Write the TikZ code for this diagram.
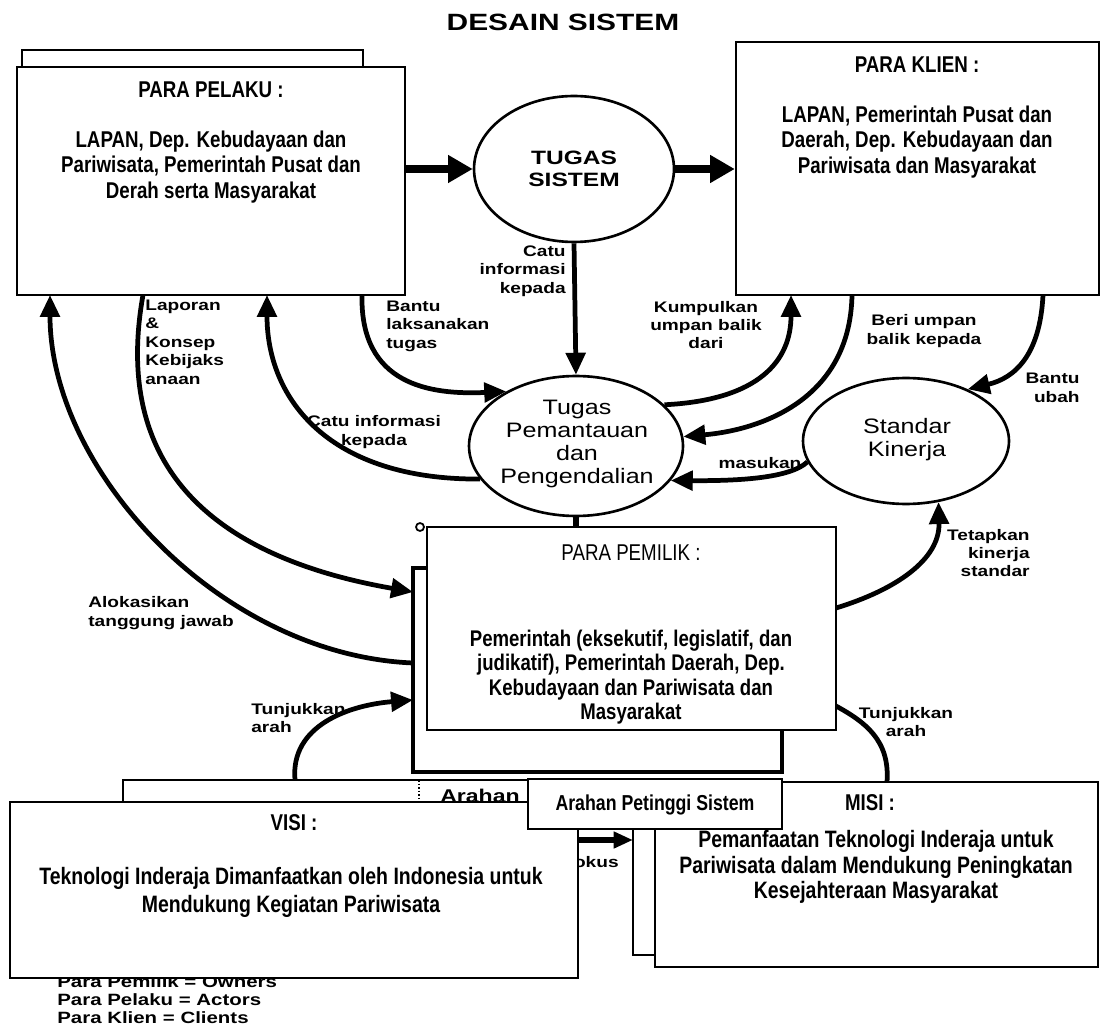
\documentclass[tikz,border=0pt]{standalone}
\usepackage{fontspec}
\setmainfont{Liberation Sans}
\newfontfamily\boxfont[FakeStretch=0.82]{Liberation Sans}
\newfontfamily\lblfont[FakeStretch=1.25]{Liberation Sans}
\newfontfamily\ellfont[FakeStretch=1.2]{Liberation Sans}
\newfontfamily\titlefont[FakeStretch=1.27]{Liberation Sans}
\usetikzlibrary{arrows.meta,shapes.geometric,fit}
\tikzset{
  box/.style={draw, line width=1.4pt, fill=white, inner sep=0pt},
  thickbox/.style={draw, line width=2.2pt, fill=white, inner sep=0pt},
  ell/.style={draw, ellipse, line width=1.5pt, fill=white, inner sep=0pt},
  conn/.style={line width=2.7pt, -{Triangle[length=12.5pt,width=11pt]}},
  plainconn/.style={line width=2.7pt},
  bigarrow/.style={line width=4.5pt, -{Triangle[length=14pt,width=15pt]}},
  fokusarrow/.style={line width=3.5pt, -{Triangle[length=11pt,width=9pt]}},
  lbl/.style={font=\lblfont\bfseries\fontsize{8.7}{10.5}\selectfont, inner sep=0pt},
  btitle/.style={font=\boxfont\bfseries\fontsize{13}{14.4}\selectfont, inner sep=0pt},
  btxt/.style={font=\boxfont\bfseries\fontsize{13}{14.6}\selectfont, align=center, inner sep=0pt},
  etxt/.style={font=\ellfont\fontsize{11.9}{13}\selectfont, align=center, inner sep=0pt},
}
\begin{document}
\begin{tikzpicture}[x=0.02cm,y=-0.02cm]
\fill[white] (0,0) rectangle (1101,1026);
\useasboundingbox (0,0) rectangle (1101,1026);

% title
\node[font=\titlefont\bfseries\fontsize{13.4}{15}\selectfont, inner sep=0pt] (title) at (563,22) {DESAIN SISTEM};

% PARA PELAKU
\node[box, fit={(22,50) (363,280)}] (pelB) {};
\node[box, fit={(17,67) (405,295)}] (pelF) {};
\node[btitle] (pelT) at (211,90) {PARA PELAKU :};
\node[btxt] (pelX) at (211,167) {LAPAN, Dep. Kebudayaan dan\\Pariwisata, Pemerintah Pusat dan\\Derah serta Masyarakat};

% PARA KLIEN
\node[box, fit={(736,42) (1099,295)}] (kli) {};
\node[btitle] (kliT) at (917,65) {PARA KLIEN :};
\node[btxt] (kliX) at (917,142) {LAPAN, Pemerintah Pusat dan\\Daerah, Dep. Kebudayaan dan\\Pariwisata dan Masyarakat};

% ellipses
\node[ell, minimum width=4cm, minimum height=2.92cm] (tug) at (574,169) {};
\node[font=\titlefont\bfseries\fontsize{11}{12.5}\selectfont, align=center, inner sep=0pt] (tugT) at (574,169) {TUGAS\\SISTEM};
\node[ell, minimum width=4.28cm, minimum height=2.8cm] (peng) at (576,446) {};
\node[etxt] (pengT) at (577,444) {Tugas\\Pemantauan\\dan\\Pengendalian};
\node[ell, minimum width=4.12cm, minimum height=2.52cm] (std) at (906,441) {};
\node[etxt] (stdT) at (907,440) {Standar\\Kinerja};

% PARA PEMILIK
\node[thickbox, fit={(413,568) (782,772)}] (pemB) {};
\node[box, fit={(427,527) (836,730)}] (pemF) {};
\node[font=\boxfont\fontsize{13}{14.4}\selectfont, inner sep=0pt] (pemT) at (631,553) {PARA PEMILIK :};
\node[font=\boxfont\bfseries\fontsize{12.9}{13.9}\selectfont, align=center, inner sep=0pt] (pemX) at (631,677) {Pemerintah (eksekutif, legislatif, dan\\judikatif), Pemerintah Daerah, Dep.\\Kebudayaan dan Pariwisata dan\\Masyarakat};
\node[circle, draw, line width=1pt, fill=white, minimum size=0.16cm, inner sep=0pt] (dot) at (420,527) {};

% legend (partly hidden by VISI)
\node[font=\lblfont\bfseries\fontsize{9.3}{10.2}\selectfont, align=left, anchor=west, inner sep=0pt] (leg) at (57,1000) {Para Pemilik = Owners\\Para Pelaku = Actors\\Para Klien = Clients};

% VISI back, hidden labels
\node[box, fit={(123,780) (560,960)}] (visB) {};
\draw[line width=1pt, densely dotted] (419,780) -- (419,802);
\node[font=\lblfont\bfseries\fontsize{10.5}{12}\selectfont, inner sep=0pt] (arahanL) at (480,796) {Arahan};
\node[lbl, anchor=east] (fokusL) at (619,862) {Fokus};
\coordinate (visR) at (578,840);
\coordinate (misL) at (633,840);
\draw[fokusarrow] (visR) -- (misL);

% VISI front
\node[box, fit={(10,802) (578,978)}] (visF) {};
\node[btitle] (visT) at (294,823) {VISI :};
\node[font=\boxfont\bfseries\fontsize{13.5}{16}\selectfont, align=center, inner sep=0pt] (visX) at (291,892) {Teknologi Inderaja Dimanfaatkan oleh Indonesia untuk\\Mendukung Kegiatan Pariwisata};

% MISI
\node[box, fit={(633,800) (1080,955)}] (misB) {};
\node[box, fit={(655,782) (1098,967)}] (misF) {};
\node[btitle] (misT) at (870,803) {MISI :};
\node[font=\boxfont\bfseries\fontsize{13.5}{14.4}\selectfont, align=center, inner sep=0pt] (misX) at (876,867) {Pemanfaatan Teknologi Inderaja untuk\\Pariwisata dalam Mendukung Peningkatan\\Kesejahteraan Masyarakat};

% Arahan Petinggi Sistem
\node[box, fit={(528,779) (782,829)}] (arah) {};
\node[font=\boxfont\bfseries\fontsize{12.3}{14}\selectfont, inner sep=0pt] (arahT) at (655,805) {Arahan Petinggi Sistem};

% connector end points on box edges
\coordinate (pelA) at (50,295);
\coordinate (pelBt) at (143,295);
\coordinate (pelC) at (267,295);
\coordinate (pelD) at (362,295);
\coordinate (kliE) at (791,295);
\coordinate (kliF) at (852,295);
\coordinate (kliG) at (1043,295);
\coordinate (pemA) at (413,663);
\coordinate (pemBt) at (413,592);
\coordinate (pemTa) at (413,700);
\coordinate (pemR1) at (836,608);
\coordinate (pemR2) at (836,706);
\coordinate (visTop) at (295,780);
\coordinate (misTop) at (887,782);

% thick arrows
\draw[bigarrow] (pelF.east |- tug.west) -- (tug.west);
\draw[bigarrow] (tug.east) -- (tug.east -| kli.west);

% connectors
\draw[conn] (pemA) .. controls (220,655) and (50,470) .. (pelA);
\draw[conn] (pelBt) .. controls (110,480) and (230,560) .. (pemBt);
\draw[conn] (peng.199) .. controls (330,480) and (267,400) .. (pelC);
\draw[conn] (pelD) .. controls (360,385) and (430,395) .. (peng.142);
\draw[conn] (tug.south) -- (peng.north);
\draw[conn] (peng.25) .. controls (760,400) and (791,360) .. (kliE);
\draw[conn] (kliF) .. controls (850,400) and (760,430) .. (peng.5);
\draw[conn] (kliG) .. controls (1040,355) and (1015,378) .. (std.40);
\draw[conn] (std.192) .. controls (790,478) and (740,481) .. (peng.-20);
\draw[conn] (pemR1) .. controls (895,590) and (940,560) .. (std.-62);
\draw[conn] (visTop) .. controls (290,725) and (350,705) .. (pemTa);
\draw[plainconn] (misTop) .. controls (890,740) and (865,722) .. (pemR2);
\draw[line width=3pt] (peng.south) -- (peng.south |- pemF.north);

% labels
\node[lbl, align=left, anchor=west] (lLap) at (145,342) {Laporan\\\&\\Konsep\\Kebijaks\\anaan};
\node[lbl, align=left, anchor=west] (lBan) at (386,326) {Bantu\\laksanakan\\tugas};
\node[lbl, align=right, anchor=east] (lCatu1) at (566,271) {Catu\\informasi\\kepada};
\node[lbl, align=center] (lKum) at (706,325) {Kumpulkan\\umpan balik\\dari};
\node[lbl, align=center] (lBeri) at (924,331) {Beri umpan\\balik kepada};
\node[lbl, align=right, anchor=east] (lUbah) at (1080,388) {Bantu\\ubah};
\node[lbl, align=center] (lCatu2) at (374,432) {Catu informasi\\kepada};
\node[lbl] (lMas) at (760,463) {masukan};
\node[lbl, align=left, anchor=west] (lAlo) at (88,613) {Alokasikan\\tanggung jawab};
\node[lbl, align=right, anchor=east] (lTet) at (1030,553) {Tetapkan\\kinerja\\standar};
\node[lbl, align=left, anchor=west] (lTun1) at (251,718) {Tunjukkan\\arah};
\node[lbl, align=center] (lTun2) at (906,722) {Tunjukkan\\arah};
\end{tikzpicture}
\end{document}
